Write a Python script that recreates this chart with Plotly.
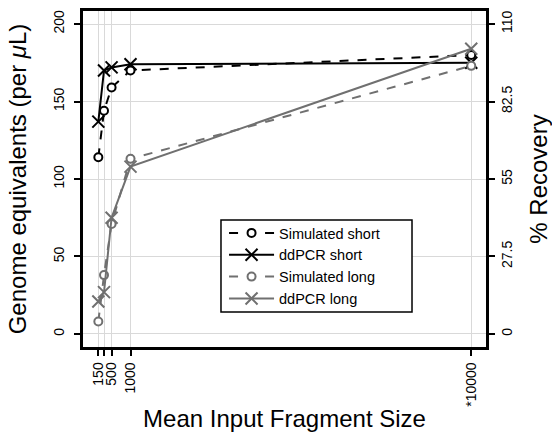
import plotly.graph_objects as go

fragment_size = [150, 300, 500, 1000, 10000]
sim_short = [114, 144, 159, 170, 180]
ddpcr_short = [137, 170, 172, 174, 175]
sim_long = [8, 38, 71, 113, 173]
ddpcr_long = [21, 27, 75, 108, 184]

x_tickvals = [150, 300, 500, 1000, 10000]
x_ticktext = ["150", "", "500", "1000", "*10000"]
y_ticks = [0, 50, 100, 150, 200]
y2_ticks = [0, 27.5, 55, 82.5, 110]
y2_ticktext = ["0", "27.5", "55", "82.5", "110"]

BLACK = "#000000"
GREY = "#707070"
FONT = "Liberation Sans, Arial, sans-serif"

fig = go.Figure()

def add(name, y, color, dash, symbol, msize):
    fig.add_trace(go.Scatter(
        x=fragment_size, y=y, name=name, mode="lines+markers",
        line=dict(color=color, width=2, dash=dash),
        marker=dict(symbol=symbol, size=msize, color="white" if "circle" in symbol else color,
                    line=dict(color=color, width=2)),
    ))

add("Simulated short", sim_short, BLACK, "dash", "circle", 8)
add("ddPCR short", ddpcr_short, BLACK, "solid", "x-thin-open", 12)
add("Simulated long", sim_long, GREY, "dash", "circle", 8)
add("ddPCR long", ddpcr_long, GREY, "solid", "x-thin-open", 12)

# empty trace so the right-hand axis is drawn
fig.add_trace(go.Scatter(x=[], y=[], yaxis="y2", showlegend=False, hoverinfo="skip"))

y_lo, y_hi = -8.4, 208.4
axis_common = dict(
    ticks="outside", ticklen=6, tickcolor="black", tickwidth=1.5,
    showline=True, linecolor="black", linewidth=2.5,
    zeroline=False, automargin=False, tickfont=dict(size=14),
)
fig.update_layout(
    width=552, height=432,
    margin=dict(l=83, r=66, t=11, b=85),
    paper_bgcolor="white", plot_bgcolor="white",
    font=dict(family=FONT, color="black", size=12),
    xaxis=dict(
        range=[-255, 10390], tickvals=x_tickvals, ticktext=x_ticktext,
        tickangle=-90, mirror=True, ticklabelstandoff=1,
        showgrid=True, gridcolor="#d9d9d9", gridwidth=1,
        title=dict(text="Mean Input Fragment Size", font=dict(size=24), standoff=5),
        **axis_common,
    ),
    yaxis=dict(
        range=[y_lo, y_hi], tickvals=y_ticks, tickangle=-90, mirror=True,
        ticklabelstandoff=5,
        showgrid=True, gridcolor="#d9d9d9", gridwidth=1,
        title=dict(text="Genome equivalents (per <i>μ</i>L)", font=dict(size=24), standoff=18),
        **axis_common,
    ),
    yaxis2=dict(
        range=[y_lo * 0.55, y_hi * 0.55], tickvals=y2_ticks, ticktext=y2_ticktext,
        tickangle=-90, overlaying="y", side="right", ticklabelstandoff=0,
        showgrid=False,
        title=dict(text="% Recovery", font=dict(size=24), standoff=17),
        **axis_common,
    ),
    legend=dict(
        x=0.35, y=0.387, xanchor="left", yanchor="top",
        borderwidth=0, bgcolor="rgba(0,0,0,0)",
        font=dict(size=14.5), tracegroupgap=0, itemwidth=45,
    ),
    shapes=[dict(
        type="rect", xref="paper", yref="paper",
        x0=0.3424, x1=0.8164, y0=0.1042, y1=0.378,
        line=dict(color="black", width=1.5), fillcolor="white", layer="above",
    )],
    showlegend=True,
)
fig.write_html("out.html", post_script="document.body.style.margin='0';",
               config={"displayModeBar": False})
